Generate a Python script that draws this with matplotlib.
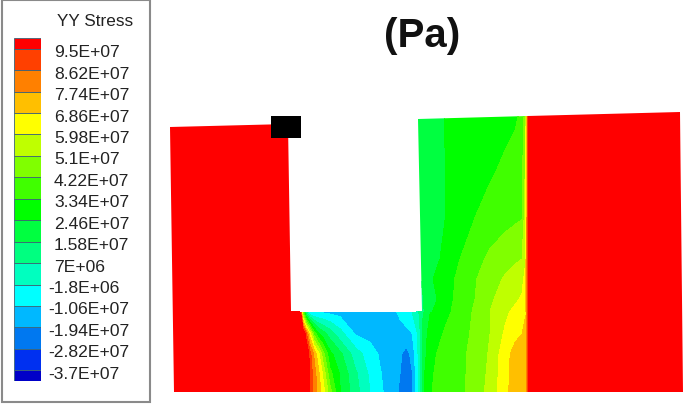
import numpy as np
import matplotlib
matplotlib.use('Agg')
import matplotlib.pyplot as plt
import matplotlib.patches as patches
from matplotlib.colors import ListedColormap, BoundaryNorm

plt.rcParams['font.family'] = ['Liberation Sans', 'DejaVu Sans']

# stress levels in units of 1E+07 Pa
levels = [-3.7, -2.82, -1.94, -1.06, -0.18, 0.7, 1.58, 2.46, 3.34, 4.22,
          5.1, 5.98, 6.86, 7.74, 8.62, 9.5]
level_labels = ['-3.7E+07', '-2.82E+07', '-1.94E+07', '-1.06E+07', '-1.8E+06',
                '7E+06', '1.58E+07', '2.46E+07', '3.34E+07', '4.22E+07',
                '5.1E+07', '5.98E+07', '6.86E+07', '7.74E+07', '8.62E+07',
                '9.5E+07']
colors = ['#0000c8', '#0030f0', '#0078f0', '#00b8ff', '#00ffff', '#00ffbf',
          '#00ff80', '#00ff40', '#00ff00', '#40ff00', '#80ff00', '#bfff00',
          '#ffff00', '#ffbf00', '#ff8000', '#ff4000', '#ff0000']

# wall above the trench floor, right of the slot
upper_x = [416, 428, 440, 450, 460, 475, 490, 505, 515, 522, 525, 529]
upper_y = [112, 170, 220, 260, 280, 300, 313]
upper_z = [
    [2.0, 2.05, 2.3, 2.65, 2.9, 2.95, 3.0, 3.0, 3.1, 3.5, 4.5, 10],
    [1.9, 2.0, 2.25, 2.65, 2.9, 3.0, 3.2, 3.5, 3.8, 4.0, 5.0, 10],
    [1.8, 1.95, 2.25, 2.65, 2.95, 3.35, 3.7, 3.95, 4.1, 4.2, 5.5, 10],
    [1.6, 2.0, 2.46, 2.9, 3.34, 3.9, 4.4, 4.75, 4.95, 5.1, 5.8, 10],
    [1.2, 2.2, 2.8, 3.2, 3.5, 4.15, 4.7, 5.2, 5.5, 5.7, 6.2, 10],
    [0.8, 2.0, 2.6, 3.2, 3.6, 4.22, 4.95, 5.5, 5.8, 6.1, 6.5, 10],
    [0.3, 2.2, 2.9, 3.3, 3.7, 4.35, 5.1, 5.8, 6.2, 6.6, 6.8, 10],
]

# below the slot
lower_x = [295, 300, 303, 306, 310, 314, 318, 323, 330, 340, 355, 370, 380, 392,
           400, 406, 412, 418, 425, 432, 445, 460, 475, 490, 505, 515, 522, 526, 529]
lower_y = [313, 335, 355, 375, 394]
lower_z = [
    [12, 10.5, 4, 1, -1.06, -1.3, -1.2, -1.2, -1.3, -1.4, -1.4, -1.4, -1.4, -1.3,
     -0.9, -0.6, -0.2, 0.5, 2.0, 2.6, 3.1, 3.7, 4.35, 5.1, 5.8, 6.2, 6.6, 6.8, 10],
    [12, 12, 11, 9.0, 6.4, 4.0, 2.7, 2.0, 1.2, 0.2, -1.1, -1.3, -1.4, -1.4,
     -1.4, -1.3, -1.1, -0.1, 2.3, 2.8, 3.45, 3.9, 4.4, 5.1, 6.1, 6.6, 6.86, 7.2, 10],
    [12, 12, 12, 11, 8.9, 7.6, 6.4, 4.6, 2.7, 1.8, 0.3, -0.7, -1.15, -1.4,
     -1.8, -2.3, -1.7, -0.18, 2.3, 3.2, 3.6, 4.0, 4.5, 5.2, 6.5, 7.2, 7.4, 7.5, 10],
    [12, 12, 12, 12, 9.2, 8.2, 7.2, 5.8, 3.6, 2.4, 0.9, -0.35, -1.0, -1.5,
     -1.94, -2.5, -2.0, -0.3, 2.5, 3.3, 3.6, 4.0, 4.55, 5.3, 6.55, 7.25, 7.45, 7.55, 10],
    [12, 12, 12, 12, 9.3, 8.4, 7.5, 6.4, 4.6, 2.5, 1.1, -0.18, -0.9, -1.5,
     -2.1, -2.8, -2.0, -0.18, 2.7, 3.34, 3.6, 4.0, 4.6, 5.4, 6.6, 7.3, 7.5, 7.6, 10],
]

# the two red blocks
left_x = [165, 300]
right_x = [529, 690]
block_y = [110, 394]
block_z = [[12, 12], [12, 12]]

outline = [(170, 128), (288, 125), (291, 312), (422, 312), (418, 120), (528, 117),
           (680, 113), (683, 393), (174, 393)]

cmap = ListedColormap(colors[1:-1])
cmap.set_under(colors[0])
cmap.set_over(colors[-1])
norm = BoundaryNorm(levels, cmap.N)

fig = plt.figure(figsize=(6.85, 4.06), dpi=100)
ax = fig.add_axes([0, 0, 1, 1])
ax.set_xlim(0, 685)
ax.set_ylim(406, 0)
ax.axis('off')

clip = patches.Polygon(outline, closed=True, transform=ax.transData, fill=False, edgecolor='none')
ax.add_patch(clip)

for xs, ys, zs in [(left_x, block_y, block_z), (right_x, block_y, block_z),
                   (upper_x, upper_y, upper_z), (lower_x, lower_y, lower_z)]:
    cs = ax.contourf(xs, ys, np.array(zs, dtype=float), levels=levels, cmap=cmap,
                     norm=norm, extend='both')
    cs.set_clip_path(clip)

ax.add_patch(patches.Rectangle((271, 117), 30, 22, facecolor='black', edgecolor='none', zorder=5))
ax.text(422, 36, '(Pa)', fontsize=29, fontweight='bold', ha='center', va='center', color='#111111')

# legend box
ax.add_patch(patches.Rectangle((2, 1), 148, 402, facecolor='white', edgecolor='#8a8a8a', linewidth=1.5, zorder=3))
ax.text(95, 22, 'YY Stress', fontsize=12.3, ha='center', va='center', color='#222222', zorder=4)

# colour bar, 14..41 px wide, 39..382 px tall
cax = fig.add_axes([14 / 685, 1 - 382 / 406, 27 / 685, 343 / 406], zorder=5)
step = levels[1] - levels[0]
edges = [levels[0] - step / 2] + levels + [levels[-1] + step / 2]
cax.set_xlim(0, 1)
cax.set_ylim(edges[0], edges[-1])
cax.axis('off')
for i, c in enumerate(colors):
    cax.barh(edges[i], 1, height=edges[i + 1] - edges[i], align='edge', color=c,
             edgecolor='#3c6478', linewidth=0.6)

for value, label in zip(levels, level_labels):
    x = 48 if label.startswith('-') else 54
    ax.annotate(label, xy=(x, 0), xycoords='data', fontsize=12.6, color='#222222',
                xytext=(x, 382 - (value - edges[0]) / (edges[-1] - edges[0]) * 343 + 3),
                textcoords='data', ha='left', va='center', zorder=4)

plt.savefig('out.png', dpi=100)
plt.close('all')
